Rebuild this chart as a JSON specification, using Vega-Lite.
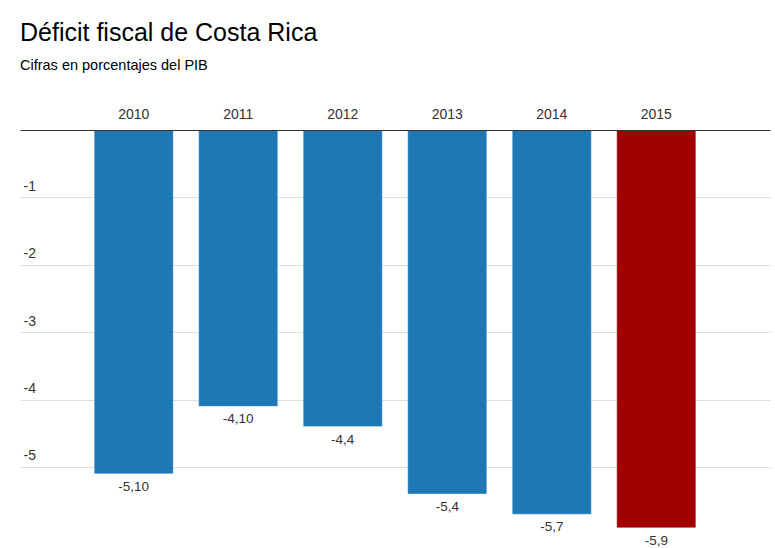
{
  "$schema": "https://vega.github.io/schema/vega-lite/v6.json",
  "width": 750,
  "height": 401,
  "padding": {"left": 20, "top": 20, "right": 5, "bottom": 5},
  "background": "white",
  "title": {
    "text": "Déficit fiscal de Costa Rica",
    "subtitle": "Cifras en porcentajes del PIB",
    "anchor": "start",
    "font": "Liberation Sans",
    "fontSize": 25,
    "fontWeight": "normal",
    "color": "#000000",
    "subtitleFont": "Liberation Sans",
    "subtitleFontSize": 14.5,
    "subtitleColor": "#000000",
    "subtitlePadding": 13,
    "offset": 35
  },
  "data": {
    "values": [
      {"year": "2010", "value": -5.1, "label": "-5,10", "highlight": "no"},
      {"year": "2011", "value": -4.1, "label": "-4,10", "highlight": "no"},
      {"year": "2012", "value": -4.4, "label": "-4,4", "highlight": "no"},
      {"year": "2013", "value": -5.4, "label": "-5,4", "highlight": "no"},
      {"year": "2014", "value": -5.7, "label": "-5,7", "highlight": "no"},
      {"year": "2015", "value": -5.9, "label": "-5,9", "highlight": "yes"}
    ]
  },
  "encoding": {
    "x": {
      "field": "year",
      "type": "nominal",
      "scale": {"paddingInner": 0.244, "paddingOuter": 0.71},
      "axis": {
        "orient": "top",
        "title": null,
        "labelAngle": 0,
        "labelFont": "Liberation Sans",
        "labelFontSize": 14,
        "labelColor": "#333333",
        "labelPadding": 9,
        "ticks": false,
        "domainColor": "#333333",
        "domainWidth": 1,
        "zindex": 2
      }
    },
    "y": {
      "field": "value",
      "type": "quantitative",
      "scale": {"domain": [-5.95, 0], "nice": false, "zero": true},
      "axis": {
        "title": null,
        "values": [-1, -2, -3, -4, -5],
        "labelExpr": "'' + datum.value",
        "domain": false,
        "ticks": false,
        "tickSize": 0,
        "labelAlign": "left",
        "labelBaseline": "bottom",
        "labelPadding": -3,
        "labelOffset": -4,
        "labelFont": "Liberation Sans",
        "labelFontSize": 14,
        "labelColor": "#333333",
        "gridColor": "#dddddd",
        "gridWidth": 1
      }
    }
  },
  "layer": [
    {
      "mark": {"type": "bar", "stroke": "#ffffff", "strokeOpacity": 0.3, "strokeWidth": 1},
      "encoding": {
        "color": {
          "field": "highlight",
          "type": "nominal",
          "scale": {"domain": ["no", "yes"], "range": ["#1f77b4", "#a10000"]},
          "legend": null
        }
      }
    },
    {
      "mark": {"type": "text", "baseline": "top", "dy": 6, "font": "Liberation Sans", "fontSize": 13.5, "color": "#333333"},
      "encoding": {"text": {"field": "label"}}
    }
  ],
  "config": {"view": {"stroke": null}}
}
